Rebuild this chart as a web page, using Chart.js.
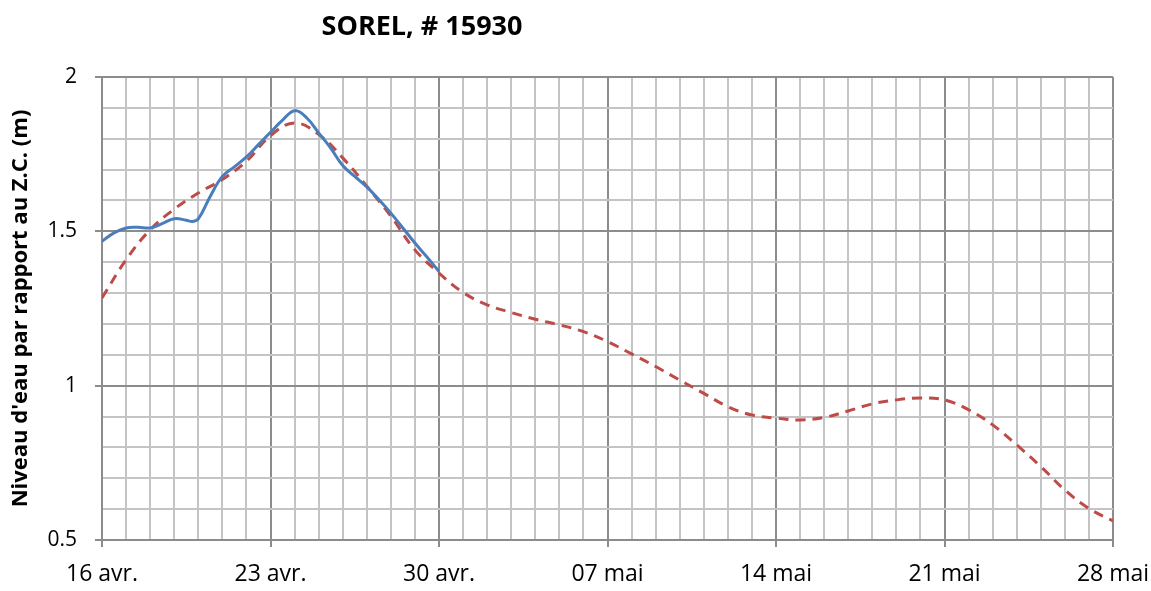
<!DOCTYPE html>
<html>
<head>
<meta charset="utf-8">
<script src="https://cdn.jsdelivr.net/npm/chart.js@4.4.1/dist/chart.umd.min.js"></script>
<style>
    html, body { margin: 0; padding: 0; background: #ffffff; }
    #wrap { width: 1151px; height: 591px; position: relative; }
</style>
</head>
<body>
<div id="wrap"><canvas id="levelChart" width="1151" height="591"></canvas></div>
<script>
// Day index 0 = 16 avr., 42 = 28 mai
const tickLabels = ['16 avr.', '23 avr.', '30 avr.', '07 mai', '14 mai', '21 mai', '28 mai'];
const yLabels = { '0.5': '0.5', '1': '1', '1.5': '1.5', '2': '2' };

// Observed level (blue, solid)
const observedDays = [0, 0.5, 1, 1.5, 2, 2.5, 3, 3.5, 3.75, 4, 4.5, 5, 5.5, 6, 6.5, 7, 7.5, 8, 8.5, 9, 9.5, 10, 10.5, 11, 11.5, 12, 12.5, 13, 13.5, 14];
const observedLevels = [1.468, 1.495, 1.511, 1.513, 1.511, 1.525, 1.541, 1.536, 1.532, 1.54, 1.614, 1.678, 1.709, 1.741, 1.781, 1.821, 1.86, 1.891, 1.868, 1.819, 1.77, 1.713, 1.678, 1.644, 1.603, 1.559, 1.511, 1.462, 1.417, 1.37];

// Forecast level (red, dashed), one value per day
const forecastDays = Array.from({ length: 43 }, (_, i) => i);
const forecastLevels = [1.284, 1.408, 1.505, 1.572, 1.624, 1.668, 1.727, 1.81, 1.851, 1.814, 1.738, 1.646, 1.549, 1.44, 1.365,
    1.302, 1.262, 1.237, 1.215, 1.197, 1.175, 1.143, 1.103, 1.062, 1.018, 0.975, 0.932, 0.905, 0.895,
    0.889, 0.897, 0.918, 0.941, 0.954, 0.96, 0.954, 0.922, 0.873, 0.808, 0.738, 0.662, 0.602, 0.562];

const toPoints = (xs, ys) => xs.map((x, i) => ({ x: x, y: ys[i] }));

const MAJOR_GRID = '#8c8c8c';
const MINOR_GRID = '#c4c4c4';
const isMajorY = v => Math.abs(v * 2 - Math.round(v * 2)) < 1e-6;

// Title drawn to the left of centre, like the original
const titlePlugin = {
    id: 'sideTitle',
    afterDraw(chart) {
        const ctx = chart.ctx;
        ctx.save();
        ctx.font = 'bold 27px "Open Sans"';
        ctx.fillStyle = '#000000';
        ctx.textAlign = 'center';
        ctx.textBaseline = 'middle';
        ctx.fillText('SOREL, # 15930', 422, 27);
        ctx.restore();
    }
};

const ctx = document.getElementById('levelChart').getContext('2d');
const chart = new Chart(ctx, {
    type: 'line',
    data: {
        datasets: [{
            label: 'Observé',
            data: toPoints(observedDays, observedLevels),
            borderColor: '#4a7ebb',
            borderWidth: 3,
            pointRadius: 0,
            tension: 0.4,
            fill: false
        }, {
            label: 'Prévision',
            data: toPoints(forecastDays, forecastLevels),
            borderColor: '#be4b48',
            borderWidth: 3,
            borderDash: [10, 7],
            pointRadius: 0,
            tension: 0.4,
            fill: false
        }]
    },
    options: {
        responsive: false,
        animation: false,
        layout: {
            padding: { top: 77, right: 38, left: 0, bottom: 0 }
        },
        plugins: {
            legend: { display: false },
            title: { display: false },
            tooltip: { enabled: false }
        },
        scales: {
            x: {
                type: 'linear',
                min: 0,
                max: 42,
                afterFit: scale => {
                    scale.height = 51;
                    scale.paddingLeft = 0;
                    scale.paddingRight = 0;
                },
                border: { display: true, color: MAJOR_GRID, width: 2 },
                grid: {
                    lineWidth: 2,
                    tickLength: 7,
                    color: c => (c.tick && c.tick.value % 7 === 0) ? MAJOR_GRID : MINOR_GRID,
                    tickColor: c => (c.tick && c.tick.value % 7 === 0) ? MAJOR_GRID : 'rgba(0,0,0,0)'
                },
                ticks: {
                    stepSize: 1,
                    autoSkip: false,
                    maxRotation: 0,
                    padding: 14,
                    color: '#000000',
                    font: { family: '"Open Sans"', size: 23 },
                    callback: value => value % 7 === 0 ? tickLabels[value / 7] : ''
                }
            },
            y: {
                min: 0.5,
                max: 2,
                afterFit: scale => { scale.width = 102; },
                border: { display: true, color: MAJOR_GRID, width: 2 },
                grid: {
                    lineWidth: 2,
                    tickLength: 7,
                    color: c => (c.tick && isMajorY(c.tick.value)) ? MAJOR_GRID : MINOR_GRID,
                    tickColor: c => (c.tick && isMajorY(c.tick.value)) ? MAJOR_GRID : 'rgba(0,0,0,0)'
                },
                ticks: {
                    stepSize: 0.1,
                    autoSkip: false,
                    padding: 18,
                    color: '#000000',
                    font: { family: '"Open Sans"', size: 21 },
                    callback: value => {
                        const key = String(Math.round(value * 10) / 10);
                        return yLabels[key] !== undefined ? yLabels[key] : '';
                    }
                },
                title: {
                    display: true,
                    text: "Niveau d'eau par rapport au Z.C. (m)",
                    color: '#000000',
                    font: { family: '"Open Sans"', size: 22, weight: 'bold' },
                    padding: { top: 8, bottom: 0 }
                }
            }
        }
    },
    plugins: [titlePlugin]
});
</script>
</body>
</html>
